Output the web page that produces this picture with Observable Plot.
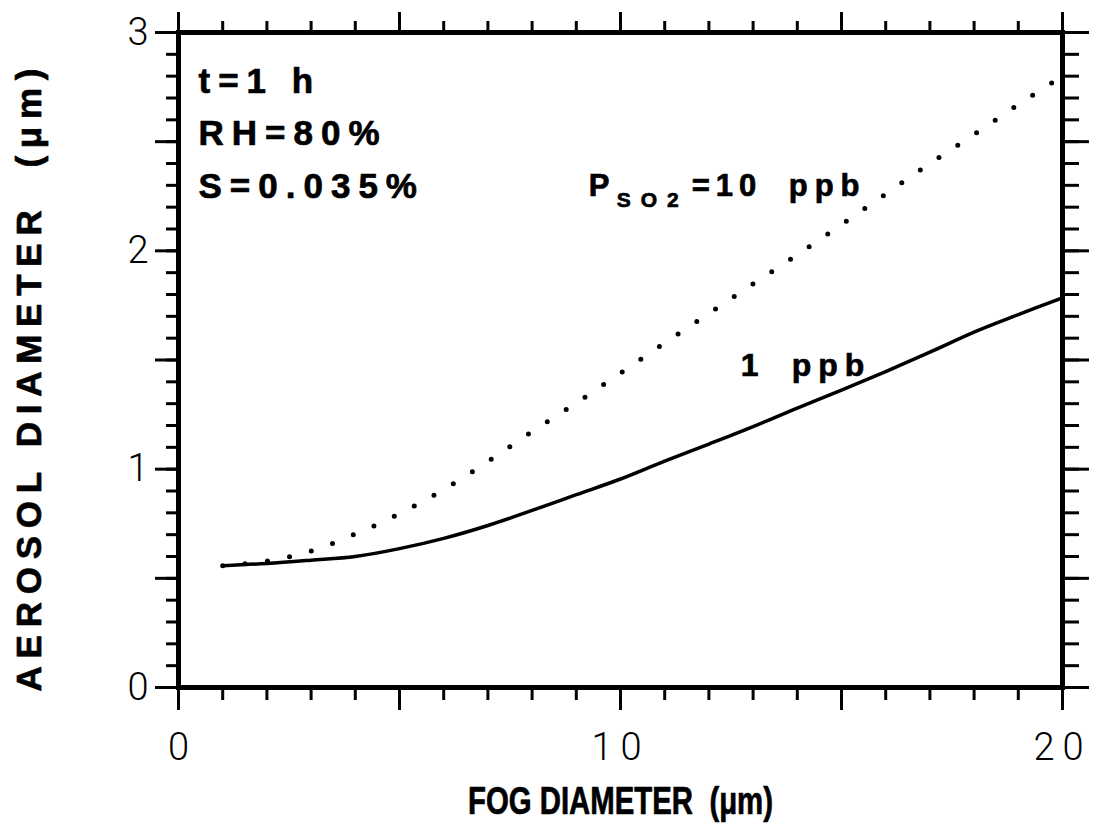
<!DOCTYPE html>
<html>
<head>
<meta charset="utf-8">
<script src="https://cdn.jsdelivr.net/npm/d3@7"></script>
<script src="https://cdn.jsdelivr.net/npm/@observablehq/plot@0.6"></script>
<style>
  body { margin: 0; background: #fff; }
</style>
</head>
<body>
<div id="chart"></div>
<script>
// Fog droplet diameter (µm) at which the aerosol diameter is evaluated
const fogDiameter = [1, 2, 3, 4, 5, 6, 7, 8, 9, 10, 11, 12, 13, 14, 15, 16, 17, 18, 19, 20];
// Aerosol diameter (µm) after 1 h for P_SO2 = 1 ppb
const aerosol1ppb = [0.558, 0.568, 0.583, 0.600, 0.636, 0.683, 0.742, 0.811, 0.883, 0.955,
                     1.037, 1.115, 1.195, 1.280, 1.362, 1.447, 1.536, 1.628, 1.708, 1.785];
// Aerosol diameter (µm) after 1 h for P_SO2 = 10 ppb
const aerosol10ppb = [0.558, 0.579, 0.625, 0.703, 0.796, 0.907, 1.035, 1.172, 1.303, 1.440,
                      1.578, 1.713, 1.848, 1.982, 2.120, 2.260, 2.400, 2.533, 2.670, 2.800];
const seriesNames = ["1 ppb", "10 ppb"];
const xTickLabels = [0, 10, 20];
const yTickLabels = [0, 1, 2, 3];
const conditions = ["t=1\u00a0h", "RH=80%", "S=0.035%"];
const xTitle = "FOG DIAMETER\u00a0\u00a0(μm)";
const yTitle = "AEROSOL DIAMETER\u00a0\u00a0(μm)";

const rows = fogDiameter.flatMap((d, i) => [
  {fog: d, aerosol: aerosol1ppb[i], so2: seriesNames[0]},
  {fog: d, aerosol: aerosol10ppb[i], so2: seriesNames[1]}
]);
const lowSO2 = rows.filter(d => d.so2 === seriesNames[0]);
const highSO2 = rows.filter(d => d.so2 === seriesNames[1]);
// the curve labels hang off the point at 16 µm on each curve
const lowAnchor = lowSO2.filter(d => d.fog === 16);
const highAnchor = highSO2.filter(d => d.fog === 16);

const sans = "'Liberation Sans', Arial, Helvetica, sans-serif";
const light = "Roboto, 'Liberation Sans', Arial, sans-serif";

const minorX = d3.range(0, 21, 1);
const majorX = d3.range(0, 21, 5);
const minorY = d3.range(0, 31, 1).map(d => d / 10);
const majorY = d3.range(0, 7, 1).map(d => d / 2);
const tick = {tickFormat: () => "", strokeWidth: 3, label: null};
// heavy lettering: bold face with a thin outline
const heavy = {fontWeight: "bold", fill: "#000", stroke: "#000", strokeWidth: 0.7};
const bold = {...heavy, textAnchor: "start", lineAnchor: "bottom"};

const chart = Plot.plot({
  width: 1108,
  height: 838,
  marginLeft: 178,
  marginRight: 46,
  marginTop: 32,
  marginBottom: 151,
  x: {domain: [0, 20], label: null},
  y: {domain: [0, 3], label: null},
  style: {fontFamily: sans, color: "#000", background: "#fff"},
  marks: [
    // ticks on all four sides, pointing outward
    Plot.axisX({anchor: "bottom", ticks: minorX, tickSize: 13, ...tick}),
    Plot.axisX({anchor: "bottom", ticks: majorX, tickSize: 23, ...tick}),
    Plot.axisX({anchor: "top", ticks: minorX, tickSize: 12, ...tick}),
    Plot.axisX({anchor: "top", ticks: majorX, tickSize: 21, ...tick}),
    Plot.axisY({anchor: "left", ticks: minorY, tickSize: 12, ...tick}),
    Plot.axisY({anchor: "left", ticks: majorY, tickSize: 23, ...tick}),
    Plot.axisY({anchor: "right", ticks: minorY, tickSize: 16, ...tick}),
    Plot.axisY({anchor: "right", ticks: majorY, tickSize: 26, ...tick}),
    // numeric tick labels
    Plot.axisX({anchor: "bottom", ticks: xTickLabels, tickSize: 0, tickPadding: 46,
      tickFormat: d3.format("d"), fontSize: 38, fontFamily: light, fontWeight: 300, label: null}),
    Plot.axisY({anchor: "left", ticks: yTickLabels, tickSize: 0, tickPadding: 30,
      tickFormat: d3.format("d"), fontSize: 38, fontFamily: light, fontWeight: 300, label: null}),
    // axis titles
    Plot.text([xTitle], {text: d => d, frameAnchor: "bottom", lineAnchor: "bottom",
      textAnchor: "middle", dy: 126, fontSize: 38, ...heavy}),
    Plot.text([yTitle], {text: d => d, frameAnchor: "left", lineAnchor: "top", textAnchor: "middle",
      rotate: -90, dx: -162, dy: 20, fontSize: 35, ...heavy}),
    Plot.frame({strokeWidth: 5}),
    // model curves
    Plot.line(lowSO2, {x: "fog", y: "aerosol", curve: "catmull-rom", strokeWidth: 3.5}),
    Plot.line(highSO2, {x: "fog", y: "aerosol", curve: "catmull-rom", strokeWidth: 5,
      strokeDasharray: "0 22.5", strokeLinecap: "round"}),
    // run conditions
    Plot.text([conditions.join("\n")], {text: d => d, frameAnchor: "top-left", lineAnchor: "top",
      dx: 20, dy: 23, lineHeight: 1.5, fontSize: 35, textAnchor: "start", ...heavy}),
    // curve labels: P_SO2 = 10 ppb
    Plot.text(highAnchor, {x: "fog", y: "aerosol", text: () => "P", dx: -297, dy: 2, fontSize: 31, ...bold}),
    Plot.text(highAnchor, {x: "fog", y: "aerosol", text: () => "SO2", dx: -269, dy: 13, fontSize: 21, ...bold}),
    Plot.text(highAnchor, {x: "fog", y: "aerosol", text: () => "=10", dx: -194, dy: 2, fontSize: 31, ...bold}),
    Plot.text(highAnchor, {x: "fog", y: "aerosol", text: () => "ppb", dx: -97, dy: 2, fontSize: 31, ...bold}),
    // curve labels: 1 ppb
    Plot.text(lowAnchor, {x: "fog", y: "aerosol", text: () => "1", dx: -145, dy: 4, fontSize: 32, ...bold}),
    Plot.text(lowAnchor, {x: "fog", y: "aerosol", text: () => "ppb", dx: -94, dy: 4, fontSize: 32, ...bold})
  ]
});

// typographic spacing of the lettering
d3.select(chart).selectAll("text").each(function () {
  const t = this.textContent;
  const sel = d3.select(this);
  if (t === "10" || t === "20") sel.attr("letter-spacing", 8);
  else if (t === "SO2") sel.attr("letter-spacing", 10);
  else if (t === "=10") sel.attr("letter-spacing", 6);
  else if (t === "ppb") sel.attr("letter-spacing", 7);
  else if (t.startsWith("t=1")) sel.attr("letter-spacing", 8);
  else if (t === xTitle) sel.attr("textLength", 305).attr("lengthAdjust", "spacingAndGlyphs");
  else if (t === yTitle) sel.attr("textLength", 623).attr("lengthAdjust", "spacing");
});
document.getElementById("chart").append(chart);
</script>
</body>
</html>
